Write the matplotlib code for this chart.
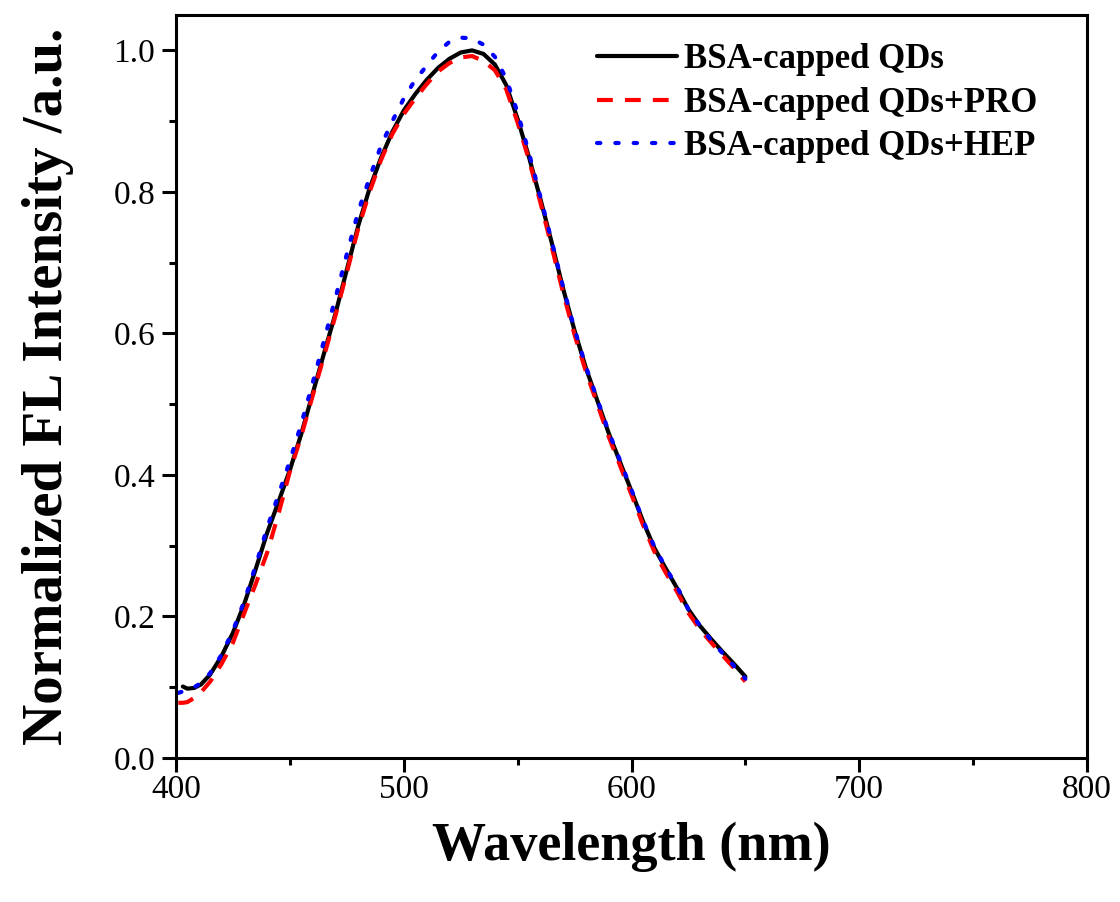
import numpy as np
import matplotlib
matplotlib.use("Agg")
import matplotlib.pyplot as plt
from matplotlib.ticker import MultipleLocator

wavelength = [401, 403, 405, 408, 411, 415, 420, 425, 430, 435, 440, 445, 450, 455,
              460, 465, 470, 475, 480, 485, 490, 495, 500, 505, 510, 515, 520, 525,
              530, 535, 540, 545, 550, 555, 560, 565, 570, 575, 580, 585, 590, 595,
              600, 605, 610, 615, 620, 625, 630, 635, 640, 645, 650]

bsa_qds = [np.nan, 0.101, 0.098, 0.099, 0.104, 0.118, 0.144, 0.177, 0.218, 0.267, 0.318,
           0.362, 0.407, 0.458, 0.515, 0.572, 0.628, 0.690, 0.752, 0.805, 0.848, 0.885,
           0.915, 0.938, 0.958, 0.975, 0.988, 0.997, 1.000, 0.995, 0.980, 0.951, 0.903,
           0.849, 0.790, 0.728, 0.663, 0.604, 0.551, 0.505, 0.459, 0.418, 0.377, 0.335,
           0.297, 0.268, 0.240, 0.210, 0.187, 0.168, 0.150, 0.133, 0.115]

bsa_qds_pro = [0.078, 0.078, 0.079, 0.085, 0.093, 0.108, 0.133, 0.163, 0.205, 0.246, 0.290,
               0.345, 0.405, 0.455, 0.512, 0.568, 0.625, 0.686, 0.748, 0.800, 0.845, 0.882,
               0.910, 0.932, 0.952, 0.970, 0.982, 0.990, 0.992, 0.985, 0.972, 0.945, 0.898,
               0.845, 0.785, 0.722, 0.657, 0.598, 0.546, 0.500, 0.454, 0.413, 0.372, 0.330,
               0.292, 0.262, 0.235, 0.205, 0.182, 0.163, 0.145, 0.127, 0.108]

bsa_qds_hep = [0.092, 0.094, 0.097, 0.100, 0.106, 0.120, 0.146, 0.180, 0.222, 0.272, 0.325,
               0.372, 0.420, 0.472, 0.530, 0.590, 0.650, 0.712, 0.772, 0.820, 0.865, 0.900,
               0.932, 0.958, 0.978, 0.998, 1.012, 1.018, 1.017, 1.008, 0.991, 0.960, 0.912,
               0.855, 0.793, 0.730, 0.665, 0.606, 0.553, 0.507, 0.461, 0.420, 0.379, 0.336,
               0.299, 0.269, 0.242, 0.210, 0.187, 0.166, 0.148, 0.130, 0.112]

labels = ["BSA-capped QDs", "BSA-capped QDs+PRO", "BSA-capped QDs+HEP"]
x_ticks = [400, 500, 600, 700, 800]
y_ticks = [0.0, 0.2, 0.4, 0.6, 0.8, 1.0]

plt.rcParams['font.family'] = ['Liberation Serif', 'DejaVu Serif']

fig = plt.figure(figsize=(11.2, 9.02), dpi=100)
ax = fig.add_axes([176/1120, 1-758/902, (1087-176)/1120, (758-15)/902])

ax.plot(wavelength, bsa_qds, color='black', lw=3, solid_capstyle='round', label=labels[0])
ax.plot(wavelength, bsa_qds_pro, color='#ff0000', lw=3, linestyle=(0, (3.8, 2.9)), label=labels[1])
ax.plot(wavelength, bsa_qds_hep, color='#0000ff', lw=3, linestyle=(0, (0.8, 3.6)),
        dash_capstyle='round', label=labels[2])

ax.set_xlim(400, 800)
ax.set_ylim(0, 1.05)
ax.set_xticks(x_ticks)
ax.set_yticks(y_ticks)
ax.set_yticklabels([f"{v:.1f}" for v in y_ticks])
ax.xaxis.set_minor_locator(MultipleLocator(50))
ax.yaxis.set_minor_locator(MultipleLocator(0.1))
for s in ax.spines.values():
    s.set_linewidth(2.2)
ax.tick_params(which='major', direction='out', length=10, width=2.2, labelsize=24)
ax.tick_params(which='minor', direction='out', length=5, width=2.2)
ax.tick_params(axis='x', which='major', pad=2)
ax.tick_params(axis='y', which='major', pad=5)

ax.set_xlabel("Wavelength (nm)", fontsize=39, fontweight='bold', labelpad=12)
ax.set_ylabel("Normalized FL Intensity /a.u.", fontsize=41, fontweight='bold', labelpad=28)

leg = ax.legend(loc='upper right', bbox_to_anchor=(0.968, 0.99), frameon=False,
                prop={'size': 25, 'weight': 'bold'}, handlelength=2.3,
                handletextpad=0.2, labelspacing=0.3, borderaxespad=0.2)

fig.savefig("out.png", dpi=100, facecolor='white')
